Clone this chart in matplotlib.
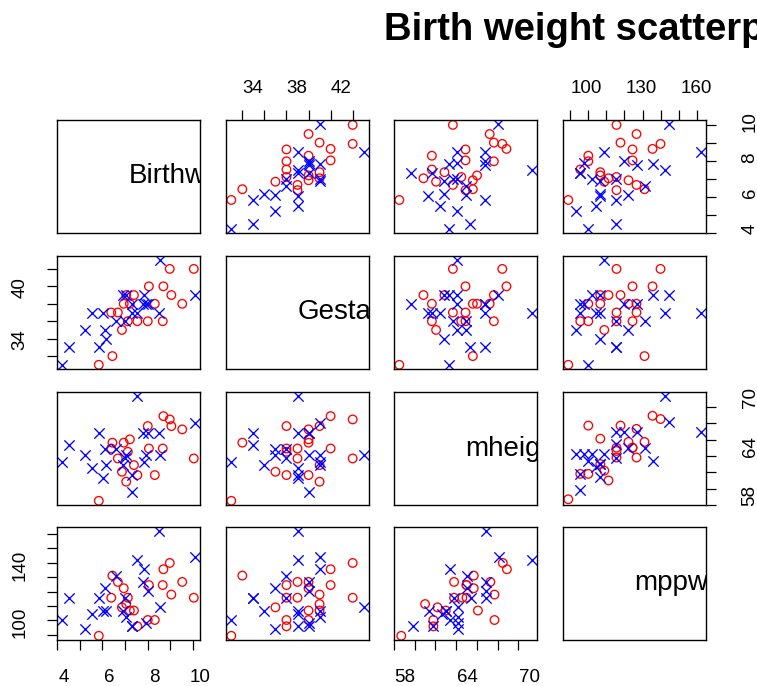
import matplotlib
matplotlib.use("Agg")
import matplotlib.pyplot as plt
import matplotlib.transforms as mtransforms
import numpy as np

plt.rcParams['font.family'] = ['Liberation Sans', 'DejaVu Sans']

# variables in the matrix
var_names = ['Birthweight', 'Gestation', 'mheight', 'mppwt']

# non smokers (red circles)
ns_birthweight = [10.03, 9.52, 9.04, 8.97, 8.69, 8.66, 8.31, 8.05, 8.00, 7.54,
                  7.39, 7.21, 7.12, 7.05, 6.94, 6.86, 6.68, 6.44, 6.39, 5.84]
ns_gestation = [44, 40, 41, 44, 42, 38, 40, 42, 38, 38,
                41, 40, 38, 41, 40, 37, 39, 34, 39, 33]
ns_mheight = [63.8, 67.3, 67.7, 68.5, 68.9, 65.0, 61.8, 65.0, 67.7, 61.8,
              63.0, 66.1, 64.6, 61.0, 65.7, 62.2, 63.8, 65.7, 65.0, 58.7]
ns_mppwt = [125.7, 136.7, 127.9, 149.9, 145.5, 134.5, 110.2, 134.5, 110.2, 105.8,
            116.8, 116.8, 125.7, 121.3, 132.3, 119.0, 136.7, 141.1, 125.7, 99.2]

# smokers (blue crosses)
sm_birthweight = [8.02, 6.92, 6.13, 5.53, 5.22, 4.52, 4.23, 10.07, 7.91, 7.32, 6.61,
                  7.32, 6.04, 8.53, 8.51, 7.83, 7.78, 7.52, 7.01, 7.03, 5.86, 6.17]
sm_gestation = [40, 41, 37, 39, 37, 35, 33, 41, 40, 40, 38,
                39, 39, 45, 39, 41, 40, 39, 38, 41, 35, 36]
sm_mheight = [66.9, 63.0, 65.0, 62.6, 64.2, 65.4, 63.4, 68.1, 64.2, 59.8, 65.0,
              61.8, 61.4, 64.2, 66.9, 63.4, 66.9, 71.3, 63.8, 64.2, 66.9, 63.0]
sm_mppwt = [130.1, 116.8, 132.3, 114.6, 103.6, 125.7, 110.2, 154.3, 108.0, 105.8, 141.1,
            105.8, 116.8, 119.0, 172.0, 145.5, 136.7, 152.1, 125.7, 112.4, 125.7, 116.8]

# ticks and the labels that are printed
tick_pos = {'Birthweight': np.arange(4, 11, 1), 'Gestation': np.arange(34, 45, 2),
            'mheight': np.arange(58, 71, 2), 'mppwt': np.arange(100, 171, 10)}
tick_lab_h = {'Birthweight': [4, 6, 8, 10], 'Gestation': [34, 38, 42],
              'mheight': [58, 64, 70], 'mppwt': [100, 130, 160]}
tick_lab_v = {'Birthweight': [4, 6, 8, 10], 'Gestation': [34, 40],
              'mheight': [58, 64, 70], 'mppwt': [100, 140]}

nonsmoker = dict(zip(var_names, [ns_birthweight, ns_gestation, ns_mheight, ns_mppwt]))
smoker = dict(zip(var_names, [sm_birthweight, sm_gestation, sm_mheight, sm_mppwt]))


def lims(name):
    v = nonsmoker[name] + smoker[name]
    lo, hi = min(v), max(v)
    pad = 0.04 * (hi - lo)
    return lo - pad, hi + pad


fig = plt.figure(figsize=(7.57, 6.86), dpi=100)
W, H = 757.0, 686.0
col_left = [57, 226, 394, 563]
row_top = [120, 256, 392, 527]
pw, ph = 143, 113


def labels(ax, name, side, dist, shift):
    # tick labels drawn by hand (R style, rotated on vertical axes)
    if side in ('top', 'bottom'):
        tr = mtransforms.blended_transform_factory(ax.transData, ax.transAxes)
        y0 = 1 if side == 'top' else 0
        dy = dist if side == 'top' else -dist
        off = mtransforms.ScaledTranslation(shift / 100, dy / 100, fig.dpi_scale_trans)
        for v in tick_lab_h[name]:
            ax.text(v, y0, str(v), transform=tr + off, ha='center', va='center',
                    fontsize=13.5, clip_on=False)
    else:
        tr = mtransforms.blended_transform_factory(ax.transAxes, ax.transData)
        x0 = 1 if side == 'right' else 0
        dx = dist if side == 'right' else -dist
        off = mtransforms.ScaledTranslation(dx / 100, shift / 100, fig.dpi_scale_trans)
        for v in tick_lab_v[name]:
            ax.text(x0, v, str(v), transform=tr + off, ha='center', va='center',
                    rotation=90, fontsize=13.5, clip_on=False)


for i, yname in enumerate(var_names):
    for j, xname in enumerate(var_names):
        ax = fig.add_axes([col_left[j] / W, 1 - (row_top[i] + ph) / H, pw / W, ph / H])
        for s in ax.spines.values():
            s.set_linewidth(1.0)
        ax.set_xlim(lims(xname))
        ax.set_ylim(lims(yname))
        ax.set_xticks([])
        ax.set_yticks([])
        if i == j:
            ax.text(0.5, 0.5, xname, transform=ax.transAxes, ha='left', va='center',
                    fontsize=20, clip_on=True)
        else:
            ax.scatter(nonsmoker[xname], nonsmoker[yname], s=38, facecolors='none',
                       edgecolors='red', linewidths=0.95)
            ax.scatter(smoker[xname], smoker[yname], s=55, marker='x',
                       color='blue', linewidths=0.95)

        # R pairs style alternating axes
        if i == 0 and j % 2 == 1:
            ax.set_xticks(tick_pos[xname])
            ax.xaxis.set_ticks_position('top')
            ax.tick_params(axis='x', labeltop=False, labelbottom=False)
            labels(ax, xname, 'top', 31, 10 if j == 1 else 17)
        if i == 3 and j % 2 == 0:
            ax.set_xticks(tick_pos[xname])
            ax.xaxis.set_ticks_position('bottom')
            ax.tick_params(axis='x', labelbottom=False)
            labels(ax, xname, 'bottom', 37, 7 if j == 0 else 11)
        if j == 0 and i % 2 == 1:
            ax.set_yticks(tick_pos[yname])
            ax.yaxis.set_ticks_position('left')
            ax.tick_params(axis='y', labelleft=False)
            labels(ax, yname, 'left', 37, 16 if i == 1 else 12)
        if j == 3 and i % 2 == 0:
            ax.set_yticks(tick_pos[yname])
            ax.yaxis.set_ticks_position('right')
            ax.tick_params(axis='y', labelleft=False, labelright=False)
            labels(ax, yname, 'right', 44, 4 if i == 0 else 9)
        ax.tick_params(direction='out', length=7.5, width=0.9)

fig.text(384 / W, 1 - 40 / H, 'Birth weight scatterplot', fontsize=27.5,
         fontweight='bold', ha='left', va='baseline')

fig.savefig('out.png', dpi=100)
